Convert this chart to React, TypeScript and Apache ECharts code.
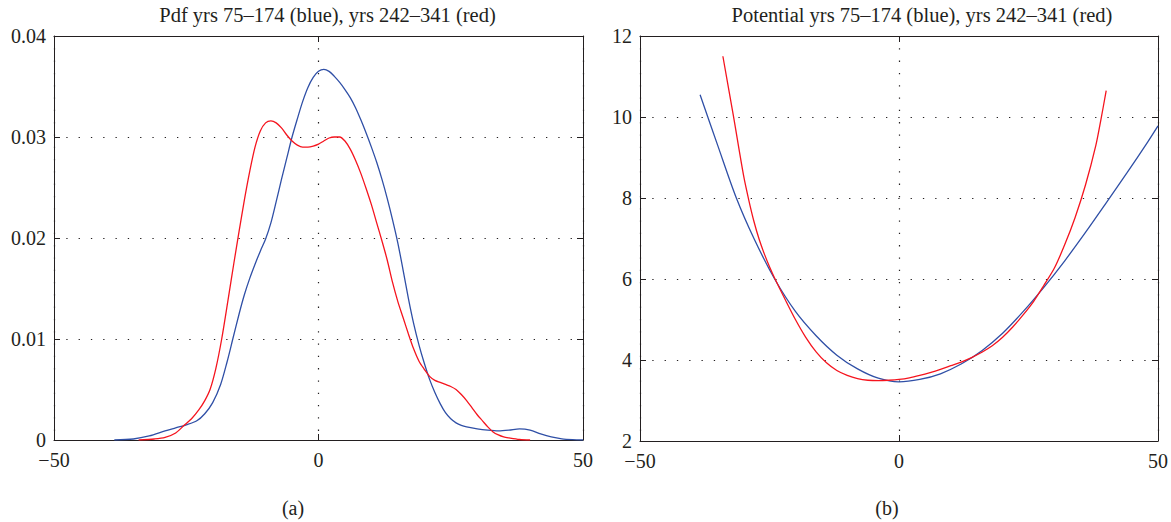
import React, { useEffect, useRef } from "react";
import * as echarts from "echarts";

// ---- Data ----
const pdfBlueX = [-38.6, -35, -32, -29, -27, -25, -23, -21.5, -20, -18.5, -17.3, -16.2, -15, -14, -13, -12, -11, -10, -9, -8, -7, -6, -5, -4, -3, -2, -1, 0, 1, 2, 3, 4, 5, 6, 7, 8, 9, 10, 11, 12, 13, 14, 15, 16, 17, 18, 19, 20, 21, 22, 23, 24, 25, 26, 27, 28, 30, 32, 34, 36, 38, 40, 42, 44, 46, 48, 50];
const pdfBlueY = [0, 0.0001, 0.0004, 0.0009, 0.0012, 0.0015, 0.0019, 0.0026, 0.0037, 0.0055, 0.0077, 0.01, 0.0125, 0.0144, 0.016, 0.0174, 0.0187, 0.0199, 0.0215, 0.0236, 0.0258, 0.0279, 0.03, 0.0318, 0.0335, 0.0349, 0.0359, 0.0365, 0.0367, 0.0365, 0.036, 0.0354, 0.0347, 0.0339, 0.0329, 0.0317, 0.0304, 0.029, 0.0275, 0.0258, 0.0239, 0.0218, 0.0195, 0.0168, 0.014, 0.0115, 0.0094, 0.0076, 0.006, 0.0047, 0.0036, 0.0027, 0.0021, 0.0017, 0.00145, 0.0013, 0.0011, 0.00097, 0.0009, 0.00097, 0.0011, 0.00098, 0.0006, 0.0003, 0.00011, 0.00003, 0];

const pdfRedX = [-34, -31, -29, -27, -25.4, -24, -22.6, -21.5, -20.5, -19.4, -18.3, -17, -16, -15, -14, -13, -12, -11, -10, -9, -8, -7, -6, -5, -4, -3, -2, -1, 0, 1, 2, 3, 4, 5, 6, 7, 8, 9, 10, 11, 12, 13, 14, 15, 16, 17, 18, 19, 20, 21, 22, 23, 24, 25, 26, 27, 28, 29, 30, 31, 32, 33, 34, 35, 36, 38, 40];
const pdfRedY = [0, 0.0001, 0.00026, 0.0007, 0.00145, 0.0021, 0.003, 0.0039, 0.005, 0.0071, 0.01, 0.0142, 0.0175, 0.0207, 0.0238, 0.0266, 0.029, 0.0306, 0.0314, 0.0316, 0.0314, 0.0309, 0.0302, 0.0296, 0.0292, 0.029, 0.029, 0.0291, 0.0293, 0.0296, 0.0299, 0.03, 0.03, 0.0296, 0.0288, 0.0277, 0.0264, 0.0249, 0.0233, 0.0215, 0.0197, 0.0178, 0.0156, 0.0137, 0.0121, 0.0105, 0.009, 0.0078, 0.007, 0.0063, 0.0059, 0.0057, 0.0055, 0.0053, 0.005, 0.0045, 0.0039, 0.0032, 0.0025, 0.0019, 0.0013, 0.0008, 0.0005, 0.0003, 0.0002, 0.00005, 0];

const potBlueX = [-38.4, -35, -31.4, -28, -24, -20, -16, -12, -8, -4, 0, 4, 8, 12, 16, 20, 24, 28, 32, 36, 40, 44, 48, 50];
const potBlueY = [10.55, 9.3, 8.0, 7.0, 6.0, 5.2, 4.6, 4.12, 3.78, 3.55, 3.46, 3.52, 3.66, 3.9, 4.23, 4.66, 5.2, 5.8, 6.45, 7.15, 7.88, 8.62, 9.38, 9.78];

const potRedX = [-34, -32, -30, -29, -28, -27, -26, -25, -24, -22, -20, -18, -16, -14, -12, -10, -8, -6, -4, -2, 0, 2, 4, 6, 8, 10, 12, 14, 16, 18, 20, 22, 24, 26, 28, 30, 32, 34, 36, 38, 39, 40];
const potRedY = [11.5, 10.05, 8.55, 7.95, 7.42, 6.98, 6.62, 6.3, 6.02, 5.5, 5.0, 4.56, 4.2, 3.93, 3.74, 3.62, 3.54, 3.5, 3.49, 3.5, 3.52, 3.56, 3.62, 3.69, 3.77, 3.86, 3.95, 4.06, 4.19, 4.35, 4.56, 4.82, 5.12, 5.45, 5.85, 6.27, 6.85, 7.52, 8.32, 9.3, 9.95, 10.65];

const titleA = "Pdf yrs 75–174 (blue), yrs 242–341 (red)";
const titleB = "Potential yrs 75–174 (blue), yrs 242–341 (red)";
const captionA = "(a)";
const captionB = "(b)";

const xTicks = { min: -50, max: 50, interval: 50 };
const yTicksA = { min: 0, max: 0.04, interval: 0.01 };
const yTicksB = { min: 2, max: 12, interval: 2 };

const BLUE = "#2f4fa6";
const RED = "#f5141e";
const INK = "#231f20";
const FONT = "'Liberation Serif', 'DejaVu Serif', serif";

const zip = (xs: number[], ys: number[]) => xs.map((x, i) => [x, ys[i]]);
const minus = (s: string) => s.replace("-", "\u2212");

export default function App() {
  const ref = useRef<HTMLDivElement>(null);
  useEffect(() => {
    document.body.style.margin = "0";
    if (!ref.current) return;
    const chart = echarts.init(ref.current, undefined, { renderer: "svg" });

    const dotted = { color: INK, width: 1.2, type: [1.3, 11] as any };
    const label = { fontFamily: FONT, fontSize: 20, color: INK, lineHeight: 16 };

    const xAxisBottom = (gi: number) => ({
      type: "value", gridIndex: gi, position: "bottom", ...xTicks,
      axisLine: { onZero: false, lineStyle: { color: INK, width: 1 } },
      axisTick: { inside: true, length: 6, lineStyle: { color: INK } },
      axisLabel: { ...label, margin: 12, formatter: (v: number) => minus(String(v)) },
      splitLine: { show: true, lineStyle: dotted },
    });
    const xAxisTop = (gi: number) => ({
      type: "value", gridIndex: gi, position: "top", ...xTicks,
      axisLine: { onZero: false, lineStyle: { color: INK, width: 1 } },
      axisTick: { inside: true, length: 6, lineStyle: { color: INK } },
      axisLabel: { show: false },
      splitLine: { show: false },
    });
    const yAxisLeft = (gi: number, t: any, fmt: (v: number) => string) => ({
      type: "value", gridIndex: gi, position: "left", ...t,
      axisLine: { show: true, onZero: false, lineStyle: { color: INK, width: 1 } },
      axisTick: { show: true, inside: true, length: 6, lineStyle: { color: INK } },
      axisLabel: { ...label, margin: 8, formatter: fmt },
      splitLine: { show: true, lineStyle: dotted },
    });
    const yAxisRight = (gi: number, t: any) => ({
      type: "value", gridIndex: gi, position: "right", ...t,
      axisLine: { show: true, onZero: false, lineStyle: { color: INK, width: 1 } },
      axisTick: { show: true, inside: true, length: 6, lineStyle: { color: INK } },
      axisLabel: { show: false },
      splitLine: { show: false },
    });

    const line = (xi: number, yi: number, data: number[][], color: string) => ({
      type: "line", xAxisIndex: xi, yAxisIndex: yi, data,
      showSymbol: false, smooth: 0.3,
      lineStyle: { color, width: 1.3 }, silent: true,
    });

    chart.setOption({
      animation: false,
      backgroundColor: "#ffffff",
      grid: [
        { left: 54, top: 36, width: 529, height: 404 },
        { left: 640, top: 36, width: 529, height: 405 },
      ],
      xAxis: [xAxisBottom(0), xAxisTop(0), xAxisBottom(1), xAxisTop(1)],
      yAxis: [
        yAxisLeft(0, yTicksA, (v: number) => (v === 0 ? "0" : v.toFixed(2))),
        yAxisRight(0, yTicksA),
        yAxisLeft(1, yTicksB, (v: number) => String(v)),
        yAxisRight(1, yTicksB),
      ],
      series: [
        line(0, 0, zip(pdfBlueX, pdfBlueY), BLUE),
        line(0, 0, zip(pdfRedX, pdfRedY), RED),
        line(2, 2, zip(potBlueX, potBlueY), BLUE),
        line(2, 2, zip(potRedX, potRedY), RED),
      ],
      graphic: [
        { type: "text", x: 327.5, y: 15, style: { text: titleA, font: `20.5px ${FONT}`, fill: INK, align: "center", verticalAlign: "middle" } },
        { type: "text", x: 922, y: 15, style: { text: titleB, font: `20.5px ${FONT}`, fill: INK, align: "center", verticalAlign: "middle" } },
        { type: "text", x: 293, y: 508, style: { text: captionA, font: `20px ${FONT}`, fill: INK, align: "center", verticalAlign: "middle" } },
        { type: "text", x: 887, y: 508, style: { text: captionB, font: `20px ${FONT}`, fill: INK, align: "center", verticalAlign: "middle" } },
      ],
    });
    return () => chart.dispose();
  }, []);
  return <div ref={ref} style={{ width: 1171, height: 522 }} />;
}
